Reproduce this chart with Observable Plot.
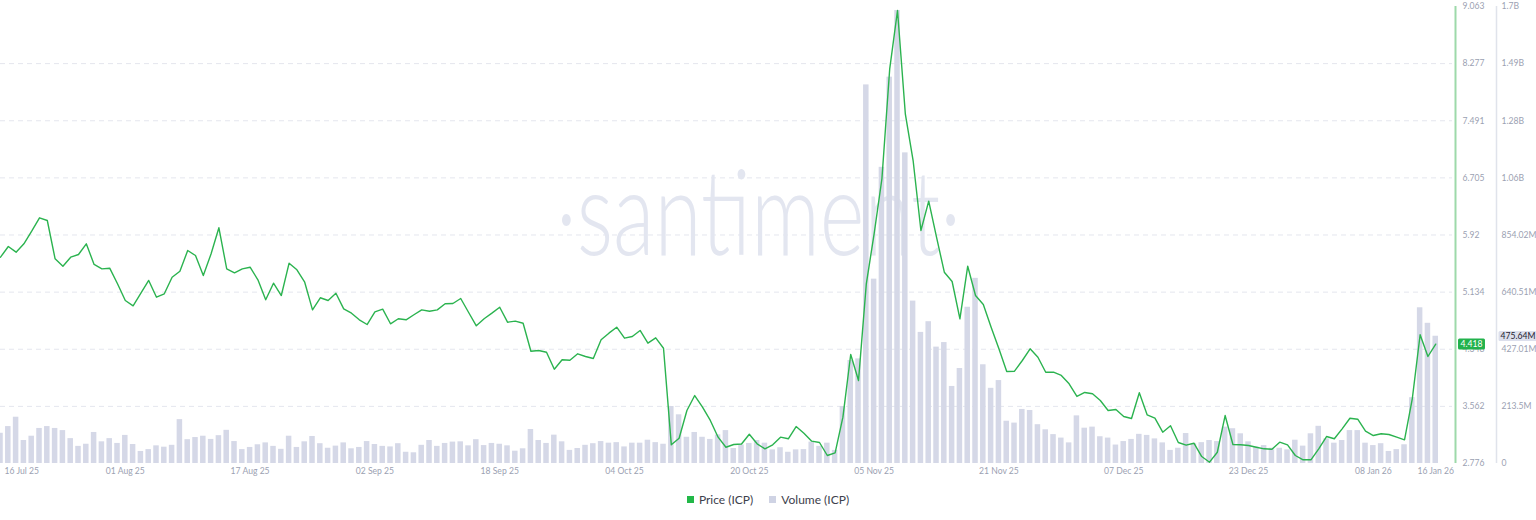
<!DOCTYPE html>
<html><head><meta charset="utf-8">
<script src="https://cdn.jsdelivr.net/npm/d3@7"></script>
<script src="https://cdn.jsdelivr.net/npm/@observablehq/plot@0.6"></script>
<style>
body{margin:0;background:#fff;font-family:Lato,"Open Sans",sans-serif;}
#chart{position:relative;width:1536px;height:485px;}
#chart svg{position:absolute;left:0;top:0;}
#legend{display:flex;justify-content:center;align-items:center;height:28px;font-size:12px;color:#3d414c;}
#legend .item{display:flex;align-items:center;margin:0 8px;}
#legend .sw{display:inline-block;width:7px;height:7px;margin-right:5px;}
</style></head><body>
<div id="chart"></div>
<div id="legend"></div>
<script>
// ---- data ----
const startDate = "2025-07-16";
const price = [5.614,5.761,5.683,5.798,5.972,6.156,6.119,5.592,5.490,5.614,
 5.651,5.798,5.514,5.454,5.463,5.248,5.018,4.945,5.119,5.294,
 5.064,5.111,5.339,5.421,5.706,5.637,5.362,5.661,6.019,5.454,
 5.399,5.454,5.476,5.303,5.028,5.256,5.087,5.532,5.441,5.270,
 4.890,5.056,5.018,5.119,4.904,4.844,4.753,4.688,4.863,4.899,
 4.698,4.767,4.753,4.822,4.890,4.871,4.890,4.973,4.977,5.046,
 4.857,4.670,4.767,4.844,4.926,4.720,4.734,4.706,4.321,4.331,
 4.307,4.073,4.203,4.197,4.285,4.248,4.220,4.478,4.569,4.651,
 4.500,4.523,4.606,4.431,4.505,4.362,3.033,3.124,3.505,3.711,
 3.551,3.368,3.138,3.000,3.037,3.044,3.179,3.047,2.978,3.033,
 3.138,3.116,3.285,3.193,3.083,3.065,2.886,2.923,3.413,4.276,
 3.918,5.248,5.936,6.693,8.206,9.008,7.587,6.944,5.981,6.385,
 5.889,5.408,5.280,4.767,5.490,5.087,4.963,4.651,4.354,4.042,
 4.046,4.193,4.354,4.238,4.032,4.032,3.987,3.872,3.698,3.753,
 3.735,3.643,3.505,3.519,3.423,3.395,3.749,3.446,3.399,3.207,
 3.295,3.065,3.028,3.055,2.872,2.794,2.931,3.436,3.037,3.033,
 3.024,3.000,2.978,2.973,3.069,3.033,2.886,2.827,2.827,2.978,
 3.147,3.116,3.253,3.399,3.385,3.220,3.161,3.185,3.175,3.138,
 3.102,3.670,4.547,4.248,4.418];
const volumeM = [113,138,173,86,102,131,138,131,123,93,
 64,72,116,81,93,75,105,71,45,52,
 66,61,68,164,89,97,102,90,104,124,
 82,52,60,70,77,64,53,102,60,81,
 101,74,57,65,77,55,60,82,71,64,
 62,74,42,40,68,86,64,75,80,81,
 66,89,67,75,72,66,46,55,127,86,
 75,106,81,49,56,68,74,82,76,78,
 62,76,76,87,78,72,213,182,98,116,
 98,90,107,123,56,69,75,86,76,51,
 59,42,51,52,80,64,76,49,213,385,
 391,1415,689,1107,1444,1693,1161,607,490,530,
 435,452,288,355,584,692,369,281,310,158,
 151,202,198,145,126,108,95,77,178,132,
 136,100,95,69,82,90,109,105,92,77,
 49,57,112,74,78,86,82,136,130,111,
 81,61,67,57,57,51,87,65,111,139,
 92,76,86,123,123,76,67,74,45,52,
 70,246,582,524,475.64];
const priceTicks = [2.776,3.562,4.348,5.134,5.92,6.705,7.491,8.277,9.063];
const priceTickLabels = ["2.776","3.562","4.348","5.134","5.92","6.705","7.491","8.277","9.063"];
const volumeTicks = [0,213.5,427.01,640.51,854.02,1067.52,1281.02,1494.53,1708.03];
const volumeTickLabels = ["0","213.5M","427.01M","640.51M","854.02M","1.06B","1.28B","1.49B","1.7B"];
const dateTicks = ["2025-07-16","2025-08-01","2025-08-17","2025-09-02","2025-09-18","2025-10-04","2025-10-20","2025-11-05","2025-11-21","2025-12-07","2025-12-23","2026-01-08","2026-01-16"];
const dateTickLabels = ["16 Jul 25","01 Aug 25","17 Aug 25","02 Sep 25","18 Sep 25","04 Oct 25","20 Oct 25","05 Nov 25","21 Nov 25","07 Dec 25","23 Dec 25","08 Jan 26","16 Jan 26"];
const seriesNames = ["Price (ICP)","Volume (ICP)"];
const priceBadge = "4.418";
const volumeBadge = "475.64M";
const watermark = "·santiment·";

// ---- build ----
const GREEN = "#2bb34f", BAR = "#d5d8e7", GRID = "#e4e6ee", LABEL = "#9ba1b2";
const start = new Date(startDate + "T00:00:00Z");
const rows = price.map((p, i) => ({date: d3.utcDay.offset(start, i), price: p, volume: volumeM[i]}));
const last = rows[rows.length - 1];
const xDomain = [start, new Date(+start + 186.15 * 864e5)];
const tickDates = dateTicks.map(s => new Date(s + "T00:00:00Z"));
const dateLabel = new Map(tickDates.map((d, i) => [+d, dateTickLabels[i]]));
const volLabel = new Map(volumeTicks.map((v, i) => [v, volumeTickLabels[i]]));
const priceLabel = new Map(priceTicks.map((v, i) => [v, priceTickLabels[i]]));

const common = {
  width: 1536, height: 485,
  marginLeft: 0, marginRight: 84, marginTop: 6, marginBottom: 22,
  x: {type: "utc", domain: xDomain, axis: null},
  style: {fontFamily: "Lato, 'Open Sans', sans-serif", fontSize: "8.6px", background: "transparent", overflow: "visible"}
};

const plotA = Plot.plot({
  ...common,
  y: {domain: [0, volumeTicks[volumeTicks.length - 1]], axis: null},
  marks: [
    Plot.gridY({ticks: volumeTicks.slice(1, -1), stroke: GRID, strokeOpacity: 1, strokeDasharray: "5,4"}),
    Plot.gridX({ticks: tickDates.slice(1, -1), stroke: GRID, strokeOpacity: 1, strokeDasharray: "5,4", y1: 0}),
    Plot.text([watermark], {text: d => d, frameAnchor: "middle", dx: 32, dy: -18, fontSize: 118, fontWeight: 300, fill: "#e3e6f0"}),
    Plot.rectY(rows, {x1: d => new Date(+d.date - 432e5), x2: d => new Date(+d.date + 432e5), y: "volume", fill: BAR, insetLeft: 1.15, insetRight: 1.15}),
    Plot.axisX({ticks: tickDates.slice(1), tickFormat: d => dateLabel.get(+d), tickSize: 0, tickPadding: 4, fill: LABEL, label: null}),
    Plot.axisX({ticks: tickDates.slice(0, 1), tickFormat: d => dateLabel.get(+d), tickSize: 0, tickPadding: 4, textAnchor: "start", dx: 4, fill: LABEL, label: null}),
    Plot.ruleX([xDomain[1]], {dx: 44, stroke: "#e0e3eb", strokeWidth: 1.5}),
    Plot.axisY({ticks: volumeTicks, tickFormat: d => volLabel.get(d), anchor: "right", tickSize: 0, tickPadding: 49, fill: LABEL, label: null}),
    Plot.text([last], {y: "volume", frameAnchor: "right", dx: 48, text: () => volumeBadge, textAnchor: "start", fill: "#1f2230", fontSize: 8.6})
  ]
});

const plotB = Plot.plot({
  ...common,
  y: {domain: [priceTicks[0], priceTicks[priceTicks.length - 1]], axis: null},
  marks: [
    Plot.lineY(rows, {x: "date", y: "price", stroke: GREEN, strokeWidth: 1.4}),
    Plot.ruleX([xDomain[1]], {dx: 3, stroke: "#9dd9aa", strokeWidth: 2}),
    Plot.axisY({ticks: priceTicks, tickFormat: d => priceLabel.get(d), anchor: "right", tickSize: 0, tickPadding: 10, fill: LABEL, label: null}),
    Plot.text([last], {y: "price", frameAnchor: "right", dx: 8, text: () => priceBadge, textAnchor: "start", fill: "white", fontSize: 8.6})
  ]
});

const chart = document.getElementById("chart");
chart.append(plotA, plotB);

function addBadge(svg, label, fill, px, py) {
  for (const t of svg.querySelectorAll("text")) {
    if (t.textContent === label) {
      const b = t.getBBox();
      const r = document.createElementNS("http://www.w3.org/2000/svg", "rect");
      r.setAttribute("x", b.x - px);
      r.setAttribute("y", b.y - py);
      r.setAttribute("width", b.width + 2 * px);
      r.setAttribute("height", b.height + 2 * py);
      r.setAttribute("rx", 1.5);
      r.setAttribute("fill", fill);
      if (t.getAttribute("transform")) r.setAttribute("transform", t.getAttribute("transform"));
      t.parentNode.insertBefore(r, t);
    }
  }
}
addBadge(plotB, priceBadge, "#22b24c", 2.5, 0.5);
addBadge(plotA, volumeBadge, "#dcdfec", 2, 0);
for (const t of plotA.querySelectorAll("text")) {
  if (t.textContent === watermark) {
    t.setAttribute("textLength", 405);
    t.setAttribute("lengthAdjust", "spacingAndGlyphs");
  }
}

const legend = document.getElementById("legend");
[[seriesNames[0], "#22b848"], [seriesNames[1], "#cfd3e4"]].forEach(([name, c]) => {
  const it = document.createElement("span");
  it.className = "item";
  it.innerHTML = `<span class="sw" style="background:${c}"></span>${name}`;
  legend.append(it);
});
</script>
</body></html>
